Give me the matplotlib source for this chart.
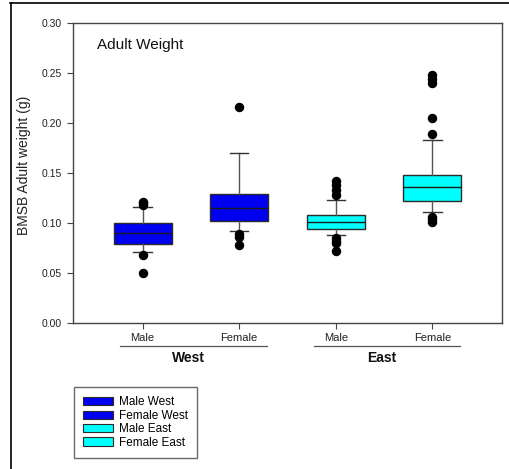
import matplotlib
matplotlib.use("Agg")
import matplotlib.pyplot as plt
from matplotlib.patches import Patch
from matplotlib.lines import Line2D

plt.rcParams['font.family'] = ['Liberation Sans', 'DejaVu Sans']

# ---- data ----
groups = ["Male West", "Female West", "Male East", "Female East"]
sex_labels = ["Male", "Female", "Male", "Female"]
regions = ["West", "East"]
medians = [0.090, 0.1153, 0.1013, 0.136]
q1 = [0.0787, 0.1017, 0.0937, 0.1223]
q3 = [0.0997, 0.129, 0.108, 0.148]
whisker_low = [0.0713, 0.0923, 0.0877, 0.111]
whisker_high = [0.1163, 0.1697, 0.123, 0.183]
outliers = [
    [0.121, 0.1195, 0.118, 0.0677, 0.050],
    [0.216, 0.0887, 0.0857, 0.078],
    [0.1423, 0.138, 0.133, 0.128, 0.0847, 0.0823, 0.0803, 0.072],
    [0.248, 0.2435, 0.2397, 0.2053, 0.189, 0.1063, 0.104, 0.1013],
]
box_colors = ["#0000F0", "#0000F0", "#00FFFF", "#00FFFF"]
yticks = [0.00, 0.05, 0.10, 0.15, 0.20, 0.25, 0.30]

fig = plt.figure(figsize=(5.09, 4.69), dpi=100)
W, H = 509, 469
ax = fig.add_axes([73 / W, 1 - 323 / H, (502 - 73) / W, 300 / H])

stats = []
for i in range(len(groups)):
    stats.append(dict(med=medians[i], q1=q1[i], q3=q3[i],
                      whislo=whisker_low[i], whishi=whisker_high[i],
                      fliers=outliers[i], label=groups[i]))
positions = list(range(1, len(groups) + 1))
edge = "#2a2a2a"
bp = ax.bxp(stats, positions=positions, widths=0.6, patch_artist=True,
            showfliers=True,
            boxprops=dict(edgecolor=edge, linewidth=1.0),
            medianprops=dict(color="#1a1a1a", linewidth=1.0),
            whiskerprops=dict(color="#555555", linewidth=1.0),
            capprops=dict(color="#333333", linewidth=1.0),
            capwidths=0.19,
            flierprops=dict(marker="o", markerfacecolor="black",
                            markeredgecolor="black", markersize=5.8))
for patch, c in zip(bp["boxes"], box_colors):
    patch.set_facecolor(c)

ax.set_xlim(0.28, 4.72)
ax.set_ylim(0, 0.30)
ax.set_yticks(yticks)
ax.set_yticklabels([f"{v:.2f}" for v in yticks], fontsize=7.5, color="#222222")
ax.set_xticks(positions)
ax.set_xticklabels(sex_labels, fontsize=8, color="#222222")
ax.tick_params(axis="both", direction="out", length=4, width=0.8,
               color="#444444")
ax.tick_params(axis="x", pad=3)
ax.tick_params(axis="y", pad=4)
for s in ax.spines.values():
    s.set_color("#444444")
    s.set_linewidth(1.0)

ax.set_ylabel("BMSB Adult weight (g)", fontsize=10, color="#222222")
ax.yaxis.set_label_coords(-0.099, 0.527)
ax.text(0.055, 0.927, "Adult Weight", transform=ax.transAxes, fontsize=11,
        ha="left", va="center", color="#111111")

# group underlines and region labels
trans = ax.get_xaxis_transform()
for j, reg in enumerate(regions):
    a, b = positions[2 * j], positions[2 * j + 1]
    ax.add_line(Line2D([a - 0.23, b + 0.29], [-0.076, -0.076], transform=trans,
                       color="#555555", linewidth=0.9, clip_on=False))
    ax.text((a + b) / 2 - 0.02, -0.117, reg, transform=trans, ha="center",
            va="center", fontsize=10, fontweight="bold", color="#111111")

# legend
handles = [Patch(facecolor=c, edgecolor=edge, linewidth=0.8, label=g)
           for g, c in zip(groups, box_colors)]
leg = fig.legend(handles=handles, loc="upper left",
                 bbox_to_anchor=(74 / W, 1 - 387 / H), fontsize=8.5,
                 frameon=True, fancybox=False, handlelength=2.5,
                 handleheight=0.7, labelspacing=0.12, borderpad=0.8,
                 handletextpad=0.5, borderaxespad=0)
leg.get_frame().set_edgecolor("#444444")
leg.get_frame().set_linewidth(1.0)

# outer frame lines
fig.add_artist(Line2D([10 / W, 1], [1 - 3 / H, 1 - 3 / H],
                      transform=fig.transFigure, color="black", linewidth=1.2))
fig.add_artist(Line2D([11 / W, 11 / W], [0, 1 - 3 / H],
                      transform=fig.transFigure, color="black", linewidth=1.2))

fig.savefig("out.png", dpi=100)
